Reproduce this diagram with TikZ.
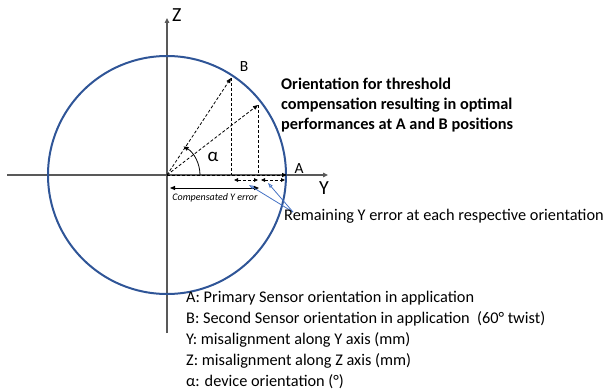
\documentclass[tikz,border=0pt]{standalone}
\usepackage{fontspec}
\setmainfont{Carlito}
\usetikzlibrary{arrows.meta}
\definecolor{circblue}{RGB}{47,85,151}
\definecolor{arrblue}{RGB}{68,114,196}
\definecolor{axisgray}{RGB}{89,89,89}
\begin{document}
\begin{tikzpicture}[x=1pt,y=-1pt,
  axisline/.style={draw=axisgray,line width=1.3pt,-{Triangle[length=5pt,width=4.5pt,fill=black]}},
  dashline/.style={draw=black,line width=0.8pt,dash pattern=on 3pt off 2pt},
  dasharrow/.style={dashline,-{Triangle[length=5pt,width=4pt]}},
  dashtwo/.style={dashline,{Triangle[length=4pt,width=3.5pt]}-{Triangle[length=4pt,width=3.5pt]}},
  bluearrow/.style={draw=arrblue,line width=0.8pt,-{Triangle[length=5pt,width=3.5pt,open]}},
  lbl/.style={inner sep=0pt,font=\fontsize{15.5}{18}\selectfont},
  axlbl/.style={inner sep=0pt,font=\fontsize{20}{24}\selectfont},
  txt/.style={inner sep=0pt,anchor=base west,font=\fontsize{16.3}{20}\selectfont},
  ttl/.style={inner sep=0pt,anchor=base west,font=\fontsize{16.3}{20}\selectfont\bfseries}]
\useasboundingbox (0,0) rectangle (607,390);
% key points
\coordinate (O) at (167,175);
\coordinate (A) at (287,175);
\coordinate (B) at (231,78);
\coordinate (C) at (258,105);
\coordinate (Bp) at (231,175);
\coordinate (Cp) at (258,175);
\coordinate (Zt) at (167,18);
\coordinate (Zb) at (167,333);
\coordinate (Yl) at (7,175);
\coordinate (Yr) at (328,175);
\coordinate (R) at (293,212);
\coordinate (R1) at (249,185);
\coordinate (R2) at (268,183);
\coordinate (D1) at (234,180);
\coordinate (D2) at (258,180);
\coordinate (D3) at (261,180);
\coordinate (D4) at (285,180);
\coordinate (E1) at (170,188);
\coordinate (E2) at (259,188);
% axes
\draw[axisline] (Yl) -- (Yr);
\draw[axisline] (Zb) -- (Zt);
% circle
\draw[circblue,line width=2pt] (O) circle[radius=119];
% dashed vectors
\draw[dasharrow] (O) -- (A);
\draw[dasharrow] (O) -- (B);
\draw[dasharrow] (O) -- (C);
\draw[dashline] (B) -- (Bp);
\draw[dashline] (C) -- (Cp);
% angle arc
\draw[black,line width=0.8pt,-{Triangle[length=5pt,width=4pt]}] ([shift={(33,0)}]O) arc[start angle=0,end angle=-60,radius=33];
% remaining error arrows
\draw[dashtwo] (D1) -- (D2);
\draw[dashtwo] (D3) -- (D4);
\draw[black,line width=0.8pt,{Triangle[length=5pt,width=4pt]}-{Triangle[length=5pt,width=4pt]}] (E1) -- (E2);
\node[inner sep=0pt,anchor=base,font=\fontsize{10}{12}\selectfont\itshape] (comp) at (215,200.5) {Compensated Y error};
\draw[bluearrow] (R) -- (R1);
\draw[bluearrow] (R) -- (R2);
% labels
\node[axlbl,anchor=west] (zl) at (172,15) {Z};
\node[axlbl] (yl) at (324,188) {Y};
\node[lbl] (al) at (299,169) {A};
\node[lbl] (bl) at (244,67) {B};
\node[inner sep=0pt,font=\fontsize{19}{22}\selectfont] (alpha) at (213,157) {α};
\node[txt] (rem) at (284,220) {Remaining Y error at each respective orientation};
\node[ttl] (t1) at (281,89.5) {Orientation for threshold};
\node[ttl] (t2) at (281,109.5) {compensation resulting in optimal};
\node[ttl] (t3) at (281,129.5) {performances at A and B positions};
\node[txt] (l1) at (186,302.5) {A: Primary Sensor orientation in application};
\node[txt] (l2) at (186,323.5) {B: Second Sensor orientation in application\ \ (60° twist)};
\node[txt] (l3) at (186,344.5) {Y: misalignment along Y axis (mm)};
\node[txt] (l4) at (186,365.5) {Z: misalignment along Z axis (mm)};
\node[txt] (l5) at (186,386) {α: device orientation (°)};
\end{tikzpicture}
\end{document}
